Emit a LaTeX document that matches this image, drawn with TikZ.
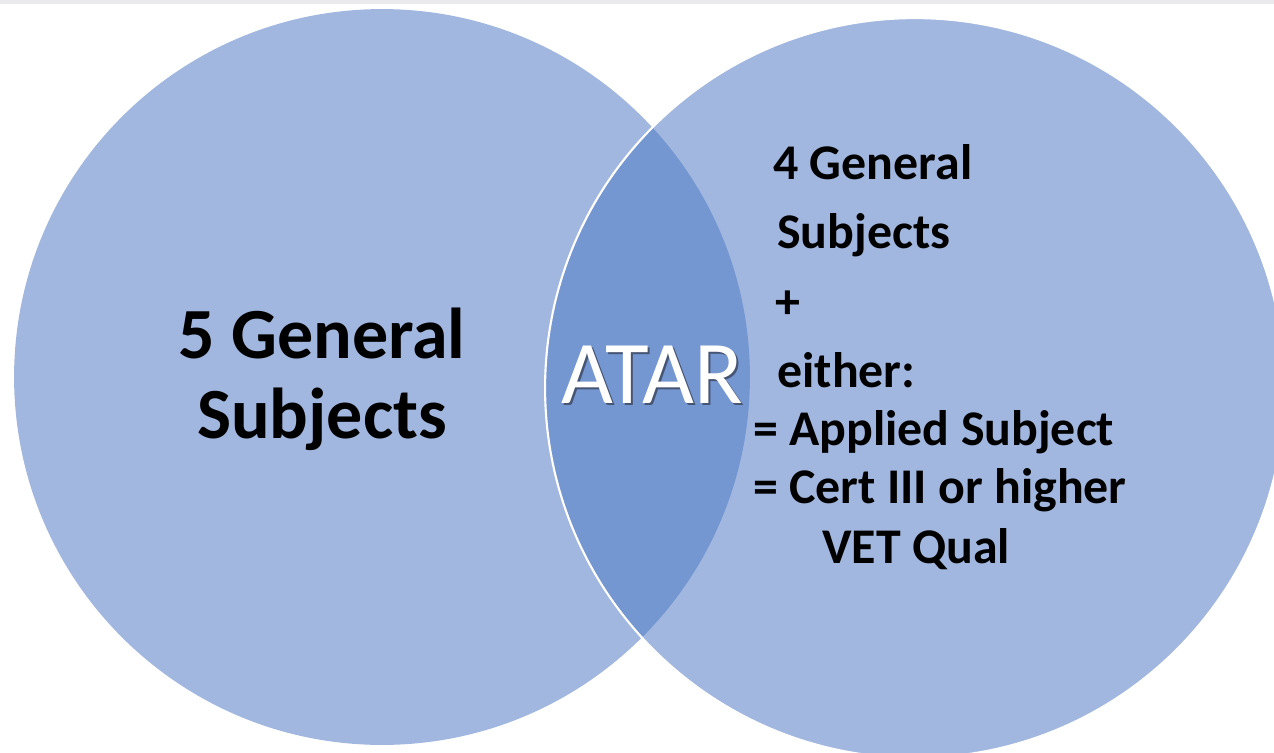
\documentclass[tikz,border=0pt]{standalone}
\usepackage{fontspec}
\setmainfont{Carlito}
\definecolor{vennBlue}{RGB}{161,183,223}
\definecolor{vennOverlap}{RGB}{116,150,209}
\definecolor{stripGray}{RGB}{234,234,236}
\definecolor{atarShade}{RGB}{70,85,115}

\begin{document}
\begin{tikzpicture}[x=0.02cm, y=-0.02cm,
    setcircle/.style={circle, fill=vennBlue, inner sep=0pt},
    bigline/.style={font=\fontsize{41}{48}\selectfont\bfseries, anchor=base, inner sep=0pt},
    reqline/.style={font=\fontsize{28.4}{34}\selectfont\bfseries, anchor=base west, inner sep=0pt}]
    \useasboundingbox (0,0) rectangle (1274,752);
    \fill[stripGray] (0,0) rectangle (1274,4);

    % the two sets
    \node[setcircle, minimum size=14.72cm] (leftset) at (382,377) {};
    \node[setcircle, minimum size=14.8cm] (rightset) at (915,388) {};
    \begin{scope}
        \clip (leftset.center) circle[radius=7.36cm];
        \fill[vennOverlap] (rightset.center) circle[radius=7.4cm];
    \end{scope}
    \draw[white, line width=1.2pt] (rightset.center) circle[radius=7.4cm];

    % left set
    \node[bigline] (leftone) at (322,358) {5 General};
    \node[bigline] (lefttwo) at (322,438) {Subjects};

    % overlap
    \node[font=\fontsize{51}{56}\selectfont, anchor=base, inner sep=0pt, atarShade] (atarshadow) at (654,405) {ATAR};
    \node[font=\fontsize{51}{56}\selectfont, anchor=base, inner sep=0pt, white] (atar) at (652,403) {ATAR};

    % right set
    \node[reqline] (rightone) at (773,179) {4 General};
    \node[reqline] (righttwo) at (777,248) {Subjects};
    \node[reqline] (rightplus) at (775,318) {+};
    \node[reqline] (righteither) at (777,387) {either:};
    \node[reqline] (rightapplied) at (753,445) {= Applied Subject};
    \node[reqline] (rightcert) at (753,503) {= Cert III or higher};
    \node[reqline] (rightvet) at (822,563) {VET Qual};
\end{tikzpicture}
\end{document}
